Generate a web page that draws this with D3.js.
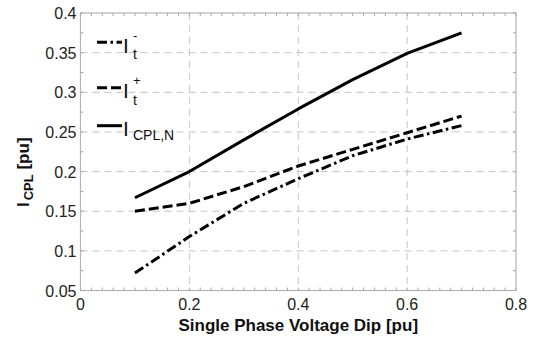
<!DOCTYPE html>
<html lang="en">
<head>
<meta charset="UTF-8">
<title>I_CPL vs single phase voltage dip</title>
<script src="https://cdnjs.cloudflare.com/ajax/libs/d3/7.8.5/d3.min.js"></script>
<style>
    body { margin: 0; background: #fff; }
    svg { display: block; font-family: 'Liberation Sans', Arial, sans-serif; }
    .tick-label { font-size: 16px; fill: #222; }
    .axis-title { font-size: 17px; font-weight: bold; fill: #111; }
    .grid line { stroke: #c4c4c4; stroke-width: 1; stroke-dasharray: 7,5; }
    .series { fill: none; stroke: #000; stroke-width: 3; stroke-linejoin: round; }
</style>
</head>
<body>
<div id="chart"></div>
<script>
// voltage dip (pu)
const dips = [0.1, 0.2, 0.3, 0.4, 0.5, 0.6, 0.7];
const itMinus = [0.072, 0.118, 0.160, 0.191, 0.220, 0.241, 0.258];
const itPlus  = [0.150, 0.160, 0.181, 0.207, 0.228, 0.249, 0.270];
const icplN   = [0.167, 0.200, 0.240, 0.279, 0.316, 0.349, 0.375];

const xTicks = [0, 0.2, 0.4, 0.6, 0.8];
const yTicks = [0.05, 0.1, 0.15, 0.2, 0.25, 0.3, 0.35, 0.4];

const series = [
    { name: "minus", values: itMinus, dash: "10,3.5,2.5,3.5" },
    { name: "plus",  values: itPlus,  dash: "10,4" },
    { name: "cpl",   values: icplN,   dash: null }
];

const width = 538, height = 343;
const margin = { top: 13, right: 22, bottom: 52.5, left: 80.5 };

const svg = d3.select("#chart").append("svg")
    .attr("width", width)
    .attr("height", height);

const x = d3.scaleLinear().domain([0, 0.8]).range([margin.left, width - margin.right]);
const y = d3.scaleLinear().domain([0.05, 0.4]).range([height - margin.bottom, margin.top]);

// grid
const grid = svg.append("g").attr("class", "grid");
grid.selectAll(".gx").data(xTicks.slice(1, -1)).join("line")
    .attr("x1", d => x(d)).attr("x2", d => x(d))
    .attr("y1", y(0.4)).attr("y2", y(0.05));
grid.selectAll(".gy").data(yTicks.slice(1, -1)).join("line")
    .attr("y1", d => y(d)).attr("y2", d => y(d))
    .attr("x1", x(0)).attr("x2", x(0.8));

// box + minor ticks (inward, all four sides)
svg.append("rect")
    .attr("x", x(0)).attr("y", y(0.4))
    .attr("width", x(0.8) - x(0)).attr("height", y(0.05) - y(0.4))
    .attr("fill", "none").attr("stroke", "#b4b4b4").attr("stroke-width", 1.2);

const xMinor = d3.range(0, 0.8001, 0.02);
const yMinor = d3.range(0.05, 0.4001, 0.025);
const tickG = svg.append("g").attr("stroke", "#a8a8a8").attr("stroke-width", 1);
[[y(0.05), -3], [y(0.4), 3]].forEach(([yy, len]) => {
    tickG.append("g").selectAll("line").data(xMinor).join("line")
        .attr("x1", d => x(d)).attr("x2", d => x(d))
        .attr("y1", yy).attr("y2", yy + len);
});
[[x(0), 3], [x(0.8), -3]].forEach(([xx, len]) => {
    tickG.append("g").selectAll("line").data(yMinor).join("line")
        .attr("y1", d => y(d)).attr("y2", d => y(d))
        .attr("x1", xx).attr("x2", xx + len);
});

// tick labels
svg.append("g").selectAll("text").data(xTicks).join("text")
    .attr("class", "tick-label")
    .attr("x", d => x(d))
    .attr("y", y(0.05) + 19)
    .attr("text-anchor", "middle")
    .text(d => d3.format("~g")(d));

svg.append("g").selectAll("text").data(yTicks).join("text")
    .attr("class", "tick-label")
    .attr("x", x(0) - 4)
    .attr("y", d => y(d) + 6)
    .attr("text-anchor", "end")
    .text(d => d3.format("~g")(d));

// axis titles
svg.append("text")
    .attr("class", "axis-title")
    .attr("x", (x(0) + x(0.8)) / 2)
    .attr("y", 331)
    .attr("text-anchor", "middle")
    .text("Single Phase Voltage Dip [pu]");

const yt = svg.append("text")
    .attr("class", "axis-title")
    .attr("transform", "translate(29,207) rotate(-90)");
yt.append("tspan").text("I");
yt.append("tspan").attr("dy", 4).attr("dx", 2).style("font-size", "13px").text("CPL");
yt.append("tspan").attr("dy", -4).text(" [pu]");

// curves
const line = d3.line()
    .x((d, i) => x(dips[i]))
    .y(d => y(d));

svg.append("g").selectAll("path").data(series).join("path")
    .attr("class", "series")
    .attr("stroke-dasharray", d => d.dash)
    .attr("d", d => line(d.values));

// legend
const legendRows = [
    { s: series[0], ly: 42.3, sup: "-", sub: "t" },
    { s: series[1], ly: 87.7, sup: "+", sub: "t" },
    { s: series[2], ly: 125.7, sup: null, sub: "CPL,N" }
];
const lg = svg.append("g");
legendRows.forEach(r => {
    lg.append("line")
        .attr("x1", 97).attr("x2", 122)
        .attr("y1", r.ly).attr("y2", r.ly)
        .attr("stroke", "#000").attr("stroke-width", 3)
        .attr("stroke-dasharray", r.s.dash);
    lg.append("text")
        .attr("x", 123).attr("y", r.ly + 10.7)
        .style("font-size", "21px").attr("fill", "#111")
        .text("I");
    lg.append("text")
        .attr("x", 133).attr("y", r.ly + (r.sup ? 17 : 14.5))
        .style("font-size", "14px").attr("fill", "#111")
        .text(r.sub);
    if (r.sup) {
        lg.append("text")
            .attr("x", 133).attr("y", r.ly - 2.5)
            .style("font-size", "13px").attr("fill", "#111")
            .text(r.sup);
    }
});
</script>
</body>
</html>
